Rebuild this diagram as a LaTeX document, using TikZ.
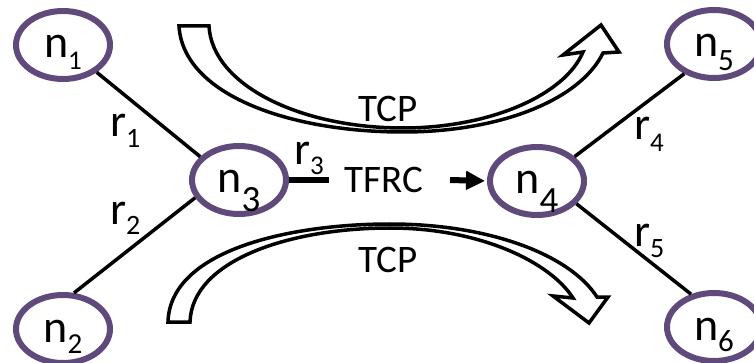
\documentclass[tikz,border=0pt]{standalone}
\usepackage{fontspec}
\setmainfont{Carlito}
\usetikzlibrary{shapes.geometric,arrows.meta}
\definecolor{nodepurple}{HTML}{604A7B}
% subscript: size, drop below baseline, digit
\newcommand{\lowsub}[3]{\raisebox{-#2pt}{\fontsize{#1}{#1}\selectfont #3}}
\begin{document}
\begin{tikzpicture}[x=1pt,y=-1pt,
  vertex/.style={ellipse, draw=nodepurple, fill=white, line width=6pt,
    minimum width=94pt, minimum height=68pt, inner sep=0pt,
    text height=30pt, text depth=4pt, font=\fontsize{46}{50}\selectfont},
  link/.style={line width=3.5pt, draw=black},
  lbl/.style={inner sep=0pt, anchor=base west, font=\fontsize{46}{50}\selectfont},
  caption/.style={inner sep=0pt, anchor=base, font=\fontsize{39}{44}\selectfont},
  blockarrow/.style={draw=black, fill=white, line width=3.5pt, line join=miter}
]
\useasboundingbox (0,0) rectangle (754,363);

% upper curved flow arrow
\draw[blockarrow] (179,26) -- (209,26)
  .. controls (212,85) and (300,128) .. (403,128)
  .. controls (490,128) and (565,95) .. (583,52)
  -- (563,55) -- (601,25) -- (619,52) -- (603,53)
  .. controls (580,100) and (500,132) .. (403,132)
  .. controls (290,132) and (183,95) .. (179,26) -- cycle;

% lower curved flow arrow
\draw[blockarrow] (168,322)
  .. controls (170,250) and (290,224) .. (390,224)
  .. controls (490,224) and (570,255) .. (597,297)
  -- (608,297) -- (589,323) -- (553,296) -- (573,298)
  .. controls (550,262) and (480,228) .. (390,228)
  .. controls (290,228) and (192,260) .. (190,322) -- cycle;

% network nodes
\node[vertex] (n1) at (63,45)   {n\lowsub{27}{12}{1}};
\node[vertex] (n2) at (63,329)  {n\lowsub{29}{11}{2}};
\node[vertex] (n3) at (239,180) {n\lowsub{37}{19}{3}};
\node[vertex] (n4) at (537,181) {n\lowsub{37}{19}{4}};
\node[vertex] (n5) at (714,44)  {n\lowsub{31}{14}{5}};
\node[vertex] (n6) at (714,327) {n\lowsub{31}{11}{6}};

% links
\draw[link] (n1.321) -- (n3.149);
\draw[link] (n2.73)  -- (n3.202);
\draw[link] (n4.33)  -- (n5.225);
\draw[link] (n4.330) -- (n6.125);

% bottleneck link r3 and the TFRC flow
\coordinate (r3end) at (329,180);
\draw[line width=6pt] (n3.east) -- (r3end);
\coordinate (tfrcfrom) at (450,180);
\draw[line width=6pt, -{Triangle[length=19pt,width=18pt]}, shorten >=2pt]
  (tfrcfrom) -- (n4.west);

% link labels
\node[lbl] (r1) at (110,137) {r\lowsub{28}{11}{1}};
\node[lbl] (r2) at (110,225) {r\lowsub{28}{10}{2}};
\node[lbl] (r3) at (294,165) {r\lowsub{27}{10}{3}};
\node[lbl] (r4) at (634,140) {r\lowsub{27}{12}{4}};
\node[lbl] (r5) at (634,247) {r\lowsub{28}{11}{5}};

% flow captions
\node[caption] (tcptop) at (388,122) {TCP};
\node[caption] (tfrc)   at (384,193) {TFRC};
\node[caption] (tcpbot) at (388,272) {TCP};
\end{tikzpicture}
\end{document}
